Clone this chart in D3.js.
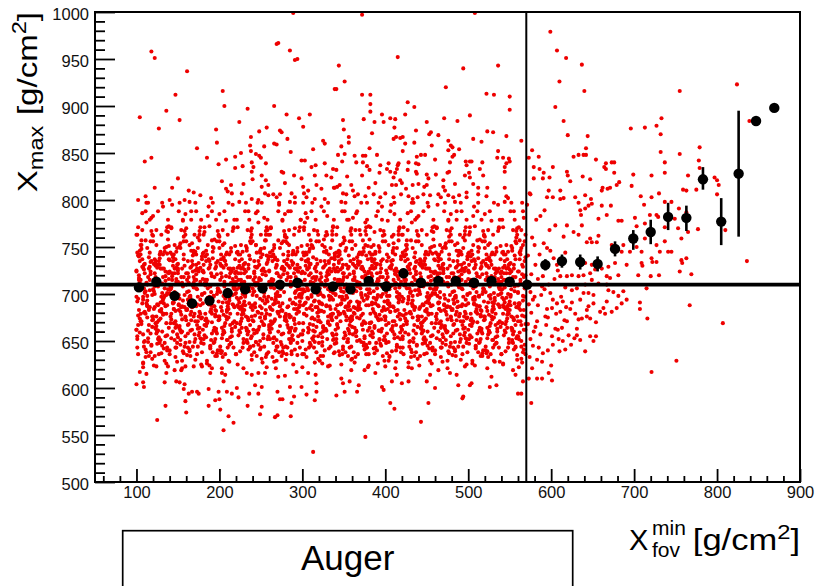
<!DOCTYPE html>
<html>
<head>
<meta charset="utf-8">
<script src="https://cdn.jsdelivr.net/npm/d3@7"></script>
<style>
  body { margin: 0; background: #fff; }
  svg { display: block; font-family: "Liberation Sans", Arial, Helvetica, sans-serif; }
</style>
</head>
<body>
<svg id="chart" width="817" height="586"></svg>
<script>
// profile points (black) : bin centre, mean Xmax, error bar ends
const binX = [103,124,146,167,188,210,231,252,273,294,316,337,358,380,401,422,443,464,485,507,528,550,571,593,613,635,656,677,699,720,741,763,783,805,826,847,869];
const binMean = [707,713,698,690,693,701,705,706,710,712,705,708,705,714,708,722,712,714,714,712,714,713,710,731,735,734,732,748,759,766,782,781,822,777,828,884,898];
const binLow = [703,709,694,686,689,697,701,702,706,708,701,704,701,710,704,717,708,710,710,708,710,709,706,725,728,726,724,740,747,753,768,767,811,752,761,884,898];
const binHigh = [711,717,702,694,697,705,709,710,714,716,709,712,709,718,712,727,716,718,718,716,718,717,714,737,742,742,740,756,768,779,797,794,835,802,895,884,898];

const refLineY = 710;   // horizontal reference
const refLineX = 570;   // vertical cut

const xMajor = [100,200,300,400,500,600,700,800,900];
const yMajor = [500,550,600,650,700,750,800,850,900,950,1000];

// red events
const redCoreA = [
[103,683],[111,641],[117,724],[106,668],[114,797],[101,655],[109,706],[119,631],[105,752],[112,690],[116,715],[100,662],[108,622],[115,739],[102,677],[110,701],[118,646],[107,768],[113,693],[104,659],
[107,729],[115,685],[102,636],[112,712],[118,781],[105,671],[110,650],[100,697],[116,744],[108,627],[103,720],[113,688],[119,665],[106,757],[111,703],[101,643],[117,734],[109,680],[114,653],[104,709],
[112,776],[104,674],[117,638],[109,726],[101,692],[114,661],[106,748],[119,699],[111,633],[103,717],[116,686],[108,657],[100,763],[113,710],[105,679],[118,645],[110,732],[102,695],[115,667],[107,786],
[116,704],[109,649],[102,741],[113,675],
[127,672],[135,719],[122,634],[132,694],[138,758],[125,647],[130,681],[120,705],[136,626],[128,738],[123,663],[133,690],[139,772],[126,652],[131,711],[121,684],[137,640],[129,727],[134,698],[124,666],
[132,793],[124,676],[137,656],[129,745],[121,703],[134,629],[126,688],[139,716],[131,660],[123,735],[136,679],[128,648],[120,762],[133,696],[125,670],[138,723],[130,637],[122,708],[135,687],[127,654],
[136,750],[129,674],[122,700],[133,642],[126,731],[139,664],[120,783],[131,692],[124,658],[135,714],[128,682],[121,624],[137,743],[130,697],[123,669],[134,706],[127,651],[138,766],[132,678],[125,689],
[123,733],[131,645],[137,701],[126,661],
[152,695],[144,660],[157,742],[149,628],[141,708],[154,678],[146,651],[159,785],[151,689],[143,719],[156,639],[148,667],[140,700],[153,754],[145,684],[158,644],[150,727],[142,673],[155,712],[147,633],
[156,693],[149,657],[142,770],[153,681],[146,702],[159,648],[140,736],[151,665],[144,690],[155,621],[148,716],[141,676],[157,761],[150,654],[143,698],[154,686],[147,643],[158,730],[152,711],[145,669],
[143,795],[151,683],[157,637],[146,722],[154,659],[141,705],[149,749],[159,675],[145,691],[152,663],[156,778],[140,640],[148,713],[155,687],[142,653],[150,725],[158,699],[147,671],[153,646],[144,739],
[147,682],[155,629],[142,707],[152,666],
[176,664],[169,707],[162,643],[173,689],[166,779],[179,675],[160,722],[171,630],[164,697],[175,656],[168,741],[161,684],[177,713],[170,649],[163,668],[174,760],[167,692],[178,625],[172,731],[165,678],
[163,703],[171,652],[177,688],[166,746],[174,671],[161,635],[169,718],[179,699],[165,661],[172,788],[176,681],[160,710],[168,644],[175,726],[162,694],[170,657],[178,674],[167,754],[173,705],[164,639],
[167,686],[175,733],[162,667],[172,715],[178,648],[165,696],[170,679],[160,770],[176,659],[168,724],[163,690],[173,636],[179,700],[166,672],[171,745],[161,683],[177,653],[169,712],[174,663],[164,798],
[172,687],[164,641],[177,728],[169,676],
[183,672],[191,719],[197,634],[186,694],[194,758],[181,647],[189,681],[199,705],[185,626],[192,738],[196,663],[180,690],[188,772],[195,652],[182,711],[190,684],[198,640],[187,727],[193,698],[184,666],
[187,793],[195,676],[182,656],[192,745],[198,703],[185,629],[190,688],[180,716],[196,660],[188,735],[183,679],[193,648],[199,762],[186,696],[191,670],[181,723],[197,637],[189,708],[194,687],[184,654],
[192,750],[184,674],[197,700],[189,642],[181,731],[194,664],[186,783],[199,692],[191,658],[183,714],[196,682],[188,624],[180,743],[193,697],[185,669],[198,706],[190,651],[182,766],[195,678],[187,689],
[196,733],[189,645],[182,701],[193,661],
[207,695],[215,660],[202,742],[212,628],[218,708],[205,678],[210,651],[200,785],[216,689],[208,719],[203,639],[213,667],[219,700],[206,754],[211,684],[201,644],[217,727],[209,673],[214,712],[204,633],
[212,693],[204,657],[217,770],[209,681],[201,702],[214,648],[206,736],[219,665],[211,690],[203,621],[216,716],[208,676],[200,761],[213,654],[205,698],[218,686],[210,643],[202,730],[215,711],[207,669],
[216,795],[209,683],[202,637],[213,722],[206,659],[219,705],[200,749],[211,675],[204,691],[215,663],[208,778],[201,640],[217,713],[210,687],[203,653],[214,725],[207,699],[218,671],[212,646],[205,739],
[203,682],[211,629],[217,707],[206,666],
[232,664],[224,707],[237,643],[229,689],[221,779],[234,675],[226,722],[239,630],[231,697],[223,656],[236,741],[228,684],[220,713],[233,649],[225,668],[238,760],[230,692],[222,625],[235,731],[227,678],
[236,703],[229,652],[222,688],[233,746],[226,671],[239,635],[220,718],[231,699],[224,661],[235,788],[228,681],[221,710],[237,644],[230,726],[223,694],[234,657],[227,674],[238,754],[232,705],[225,639],
[223,686],[231,733],[237,667],[226,715],[234,648],[221,696],[229,679],[239,770],[225,659],[232,724],[236,690],[220,636],[228,700],[235,672],[222,745],[230,683],[238,653],[227,712],[233,663],[224,798],
[227,687],[235,641],[222,728],[232,676],
[256,683],[249,641],[242,724],[253,668],[246,797],[259,655],[240,706],[251,631],[244,752],[255,690],[248,715],[241,662],[257,622],[250,739],[243,677],[254,701],[247,646],[258,768],[252,693],[245,659],
[243,729],[251,685],[257,636],[246,712],[254,781],[241,671],[249,650],[259,697],[245,744],[252,627],[256,720],[240,688],[248,665],[255,757],[242,703],[250,643],[258,734],[247,680],[253,653],[244,709],
[247,776],[255,674],[242,638],[252,726],[258,692],[245,661],[250,748],[240,699],[256,633],[248,717],[243,686],[253,657],[259,763],[246,710],[251,679],[241,645],[257,732],[249,695],[254,667],[244,786],
[252,704],[244,649],[257,741],[249,675],
[263,695],[271,660],[277,742],[266,628],[274,708],[261,678],[269,651],[279,785],[265,689],[272,719],[276,639],[260,667],[268,700],[275,754],[262,684],[270,644],[278,727],[267,673],[273,712],[264,633],
[267,693],[275,657],[262,770],[272,681],[278,702],[265,648],[270,736],[260,665],[276,690],[268,621],[263,716],[273,676],[279,761],[266,654],[271,698],[261,686],[277,643],[269,730],[274,711],[264,669],
[272,795],[264,683],[277,637],[269,722],[261,659],[274,705],[266,749],[279,675],[271,691],[263,663],[276,778],[268,640],[260,713],[273,687],[265,653],[278,725],[270,699],[262,671],[275,646],[267,739],
[276,682],[269,629],[262,707],[273,666],
[287,664],[295,707],[282,643],[292,689],[298,779],[285,675],[290,722],[280,630],[296,697],[288,656],[283,741],[293,684],[299,713],[286,649],[291,668],[281,760],[297,692],[289,625],[294,731],[284,678],
[292,703],[284,652],[297,688],[289,746],[281,671],[294,635],[286,718],[299,699],[291,661],[283,788],[296,681],[288,710],[280,644],[293,726],[285,694],[298,657],[290,674],[282,754],[295,705],[287,639],
[296,686],[289,733],[282,667],[293,715],[286,648],[299,696],[280,679],[291,770],[284,659],[295,724],[288,690],[281,636],[297,700],[290,672],[283,745],[294,683],[287,653],[298,712],[292,663],[285,798],
[283,687],[291,641],[297,728],[286,676]
];

const redCoreB = [
[312,683],[304,641],[317,724],[309,668],[301,797],[314,655],[306,706],[319,631],[311,752],[303,690],[316,715],[308,662],[300,622],[313,739],[305,677],[318,701],[310,646],[302,768],[315,693],[307,659],
[316,729],[309,685],[302,636],[313,712],[306,781],[319,671],[300,650],[311,697],[304,744],[315,627],[308,720],[301,688],[317,665],[310,757],[303,703],[314,643],[307,734],[318,680],[312,653],[305,709],
[303,776],[311,674],[317,638],[306,726],[314,692],[301,661],[309,748],[319,699],[305,633],[312,717],[316,686],[300,657],[308,763],[315,710],[302,679],[310,645],[318,732],[307,695],[313,667],[304,786],
[307,704],[315,649],[302,741],[312,675],
[336,672],[329,719],[322,634],[333,694],[326,758],[339,647],[320,681],[331,705],[324,626],[335,738],[328,663],[321,690],[337,772],[330,652],[323,711],[334,684],[327,640],[338,727],[332,698],[325,666],
[323,793],[331,676],[337,656],[326,745],[334,703],[321,629],[329,688],[339,716],[325,660],[332,735],[336,679],[320,648],[328,762],[335,696],[322,670],[330,723],[338,637],[327,708],[333,687],[324,654],
[327,750],[335,674],[322,700],[332,642],[338,731],[325,664],[330,783],[320,692],[336,658],[328,714],[323,682],[333,624],[339,743],[326,697],[331,669],[321,706],[337,651],[329,766],[334,678],[324,689],
[332,733],[324,645],[337,701],[329,661],
[343,664],[351,707],[357,643],[346,689],[354,779],[341,675],[349,722],[359,630],[345,697],[352,656],[356,741],[340,684],[348,713],[355,649],[342,668],[350,760],[358,692],[347,625],[353,731],[344,678],
[347,703],[355,652],[342,688],[352,746],[358,671],[345,635],[350,718],[340,699],[356,661],[348,788],[343,681],[353,710],[359,644],[346,726],[351,694],[341,657],[357,674],[349,754],[354,705],[344,639],
[352,686],[344,733],[357,667],[349,715],[341,648],[354,696],[346,679],[359,770],[351,659],[343,724],[356,690],[348,636],[340,700],[353,672],[345,745],[358,683],[350,653],[342,712],[355,663],[347,798],
[356,687],[349,641],[342,728],[353,676],
[367,683],[375,641],[362,724],[372,668],[378,797],[365,655],[370,706],[360,631],[376,752],[368,690],[363,715],[373,662],[379,622],[366,739],[371,677],[361,701],[377,646],[369,768],[374,693],[364,659],
[372,729],[364,685],[377,636],[369,712],[361,781],[374,671],[366,650],[379,697],[371,744],[363,627],[376,720],[368,688],[360,665],[373,757],[365,703],[378,643],[370,734],[362,680],[375,653],[367,709],
[376,776],[369,674],[362,638],[373,726],[366,692],[379,661],[360,748],[371,699],[364,633],[375,717],[368,686],[361,657],[377,763],[370,710],[363,679],[374,645],[367,732],[378,695],[372,667],[365,786],
[363,704],[371,649],[377,741],[366,675],
[392,672],[384,719],[397,634],[389,694],[381,758],[394,647],[386,681],[399,705],[391,626],[383,738],[396,663],[388,690],[380,772],[393,652],[385,711],[398,684],[390,640],[382,727],[395,698],[387,666],
[396,793],[389,676],[382,656],[393,745],[386,703],[399,629],[380,688],[391,716],[384,660],[395,735],[388,679],[381,648],[397,762],[390,696],[383,670],[394,723],[387,637],[398,708],[392,687],[385,654],
[383,750],[391,674],[397,700],[386,642],[394,731],[381,664],[389,783],[399,692],[385,658],[392,714],[396,682],[380,624],[388,743],[395,697],[382,669],[390,706],[398,651],[387,766],[393,678],[384,689],
[387,733],[395,645],[382,701],[392,661],
[416,695],[409,660],[402,742],[413,628],[406,708],[419,678],[400,651],[411,785],[404,689],[415,719],[408,639],[401,667],[417,700],[410,754],[403,684],[414,644],[407,727],[418,673],[412,712],[405,633],
[403,693],[411,657],[417,770],[406,681],[414,702],[401,648],[409,736],[419,665],[405,690],[412,621],[416,716],[400,676],[408,761],[415,654],[402,698],[410,686],[418,643],[407,730],[413,711],[404,669],
[407,795],[415,683],[402,637],[412,722],[418,659],[405,705],[410,749],[400,675],[416,691],[408,663],[403,778],[413,640],[419,713],[406,687],[411,653],[401,725],[417,699],[409,671],[414,646],[404,739],
[412,682],[404,629],[417,707],[409,666],
[423,683],[431,641],[437,724],[426,668],[434,797],[421,655],[429,706],[439,631],[425,752],[432,690],[436,715],[420,662],[428,622],[435,739],[422,677],[430,701],[438,646],[427,768],[433,693],[424,659],
[427,729],[435,685],[422,636],[432,712],[438,781],[425,671],[430,650],[420,697],[436,744],[428,627],[423,720],[433,688],[439,665],[426,757],[431,703],[421,643],[437,734],[429,680],[434,653],[424,709],
[432,776],[424,674],[437,638],[429,726],[421,692],[434,661],[426,748],[439,699],[431,633],[423,717],[436,686],[428,657],[420,763],[433,710],[425,679],[438,645],[430,732],[422,695],[435,667],[427,786],
[436,704],[429,649],[422,741],[433,675],
[447,672],[455,719],[442,634],[452,694],[458,758],[445,647],[450,681],[440,705],[456,626],[448,738],[443,663],[453,690],[459,772],[446,652],[451,711],[441,684],[457,640],[449,727],[454,698],[444,666],
[452,793],[444,676],[457,656],[449,745],[441,703],[454,629],[446,688],[459,716],[451,660],[443,735],[456,679],[448,648],[440,762],[453,696],[445,670],[458,723],[450,637],[442,708],[455,687],[447,654],
[456,750],[449,674],[442,700],[453,642],[446,731],[459,664],[440,783],[451,692],[444,658],[455,714],[448,682],[441,624],[457,743],[450,697],[443,669],[454,706],[447,651],[458,766],[452,678],[445,689],
[443,733],[451,645],[457,701],[446,661],
[472,695],[464,660],[477,742],[469,628],[461,708],[474,678],[466,651],[479,785],[471,689],[463,719],[476,639],[468,667],[460,700],[473,754],[465,684],[478,644],[470,727],[462,673],[475,712],[467,633],
[476,693],[469,657],[462,770],[473,681],[466,702],[479,648],[460,736],[471,665],[464,690],[475,621],[468,716],[461,676],[477,761],[470,654],[463,698],[474,686],[467,643],[478,730],[472,711],[465,669],
[463,795],[471,683],[477,637],[466,722],[474,659],[461,705],[469,749],[479,675],[465,691],[472,663],[476,778],[460,640],[468,713],[475,687],[462,653],[470,725],[478,699],[467,671],[473,646],[464,739],
[467,682],[475,629],[462,707],[472,666],
[496,664],[489,707],[482,643],[493,689],[486,779],[499,675],[480,722],[491,630],[484,697],[495,656],[488,741],[481,684],[497,713],[490,649],[483,668],[494,760],[487,692],[498,625],[492,731],[485,678],
[483,703],[491,652],[497,688],[486,746],[494,671],[481,635],[489,718],[499,699],[485,661],[492,788],[496,681],[480,710],[488,644],[495,726],[482,694],[490,657],[498,674],[487,754],[493,705],[484,639],
[487,686],[495,733],[482,667],[492,715],[498,648],[485,696],[490,679],[480,770],[496,659],[488,724],[483,690],[493,636],[499,700],[486,672],[491,745],[481,683],[497,653],[489,712],[494,663],[484,798],
[492,687],[484,641],[497,728],[489,676],
[503,672],[511,719],[517,634],[506,694],[514,758],[501,647],[509,681],[519,705],[505,626],[512,738],[516,663],[500,690],[508,772],[515,652],[502,711],[510,684],[518,640],[507,727],[513,698],[504,666],
[507,793],[515,676],[502,656],[512,745],[518,703],[505,629],[510,688],[500,716],[516,660],[508,735],[503,679],[513,648],[519,762],[506,696],[511,670],[501,723],[517,637],[509,708],[514,687],[504,654],
[512,750],[504,674],[517,700],[509,642],[501,731],[514,664],[506,783],[519,692],[511,658],[503,714],[516,682],[508,624],[500,743],[513,697],[505,669],[518,706],[510,651],[502,766],[515,678],[507,689],
[516,733],[509,645],[502,701],[513,661],
[527,695],[535,660],[522,742],[532,628],[538,708],[525,678],[530,651],[520,785],[536,689],[528,719],[523,639],[533,667],[539,700],[526,754],[531,684],[521,644],[537,727],[529,673],[534,712],[524,633],
[532,693],[524,657],[537,770],[529,681],[521,702],[534,648],[526,736],[539,665],[531,690],[523,621],[536,716],[528,676],[520,761],[533,654],[525,698],[538,686],[530,643],[522,730],[535,711],[527,669],
[536,795],[529,683],[522,637],[533,722],[526,659],[539,705],[520,749],[531,675],[524,691],[535,663],[528,778],[521,640],[537,713],[530,687],[523,653],[534,725],[527,699],[538,671],[532,646],[525,739],
[523,682],[531,629],[537,707],[526,666],
[552,664],[544,707],[557,643],[549,689],[541,779],[554,675],[546,722],[559,630],[551,697],[543,656],[556,741],[548,684],[540,713],[553,649],[545,668],[558,760],[550,692],[542,625],[555,731],[547,678],
[556,703],[549,652],[542,688],[553,746],[546,671],[559,635],[540,718],[551,699],[544,661],[555,788],[548,681],[541,710],[557,644],[550,726],[543,694],[554,657],[547,674],[558,754],[552,705],[545,639],
[543,686],[551,733],[557,667],[546,715],[554,648],[541,696],[549,679],[559,770],[545,659],[552,724],[556,690],[540,636],[548,700],[555,672],[542,745],[550,683],[558,653],[547,712],[553,663],[544,798],
[547,687],[555,641],[542,728],[552,676],
[563,683],[567,641],[561,724],[569,668],[565,797],[560,655],[568,706],[564,631],[566,752],[562,690],[563,715],[567,662],[561,622],[569,739],[565,677],[560,701],[568,646],[564,768],[566,693],[562,659],
[566,729],[561,685],[569,636],[563,712],[567,781],[560,671],[564,650],[568,697],[562,744],[565,627],[569,720],[561,688]
];

// extra events in the densest part of the cloud (630-770)
const redDense = [
[101,652],[113,698],[106,671],[118,735],[109,644],[103,709],[115,683],[111,757],[100,662],[117,721],[107,690],[112,638],[104,746],[119,676],[110,702],[102,667],[116,729],[108,694],[114,649],[105,715],[110,681],[101,763],[117,658],[106,706],[113,687],[103,740],[119,672],[108,697],[115,634],[100,725],[111,679],[104,712],
[138,705],[125,661],[131,727],[122,686],[134,648],[128,742],[120,673],[136,699],[127,636],[132,718],[123,664],[139,751],[129,691],[135,655],[121,732],[133,679],[126,708],[137,643],[124,768],[130,684],[126,713],[136,669],[122,737],[132,696],[129,651],[139,722],[120,676],[134,745],[125,660],[131,701],[137,688],[123,730],
[141,705],[153,661],[146,727],[158,686],[149,648],[143,742],[155,673],[151,699],[140,636],[157,718],[147,664],[152,751],[144,691],[159,655],[150,732],[142,679],[156,708],[148,643],[154,768],[145,684],[150,713],[141,669],[157,737],[146,696],[153,651],[143,722],[159,676],[148,745],[155,660],[140,701],[151,688],[144,730],
[178,652],[165,698],[171,671],[162,735],[174,644],[168,709],[160,683],[176,757],[167,662],[172,721],[163,690],[179,638],[169,746],[175,676],[161,702],[173,667],[166,729],[177,694],[164,649],[170,715],[166,681],[176,763],[162,658],[172,706],[169,687],[179,740],[160,672],[174,697],[165,634],[171,725],[177,679],[163,712],
[181,652],[193,698],[186,671],[198,735],[189,644],[183,709],[195,683],[191,757],[180,662],[197,721],[187,690],[192,638],[184,746],[199,676],[190,702],[182,667],[196,729],[188,694],[194,649],[185,715],[190,681],[181,763],[197,658],[186,706],[193,687],[183,740],[199,672],[188,697],[195,634],[180,725],[191,679],[184,712],
[218,705],[205,661],[211,727],[202,686],[214,648],[208,742],[200,673],[216,699],[207,636],[212,718],[203,664],[219,751],[209,691],[215,655],[201,732],[213,679],[206,708],[217,643],[204,768],[210,684],[206,713],[216,669],[202,737],[212,696],[209,651],[219,722],[200,676],[214,745],[205,660],[211,701],[217,688],[203,730],
[221,705],[233,661],[226,727],[238,686],[229,648],[223,742],[235,673],[231,699],[220,636],[237,718],[227,664],[232,751],[224,691],[239,655],[230,732],[222,679],[236,708],[228,643],[234,768],[225,684],[230,713],[221,669],[237,737],[226,696],[233,651],[223,722],[239,676],[228,745],[235,660],[220,701],[231,688],[224,730],
[258,652],[245,698],[251,671],[242,735],[254,644],[248,709],[240,683],[256,757],[247,662],[252,721],[243,690],[259,638],[249,746],[255,676],[241,702],[253,667],[246,729],[257,694],[244,649],[250,715],[246,681],[256,763],[242,658],[252,706],[249,687],[259,740],[240,672],[254,697],[245,634],[251,725],[257,679],[243,712],
[261,652],[273,698],[266,671],[278,735],[269,644],[263,709],[275,683],[271,757],[260,662],[277,721],[267,690],[272,638],[264,746],[279,676],[270,702],[262,667],[276,729],[268,694],[274,649],[265,715],[270,681],[261,763],[277,658],[266,706],[273,687],[263,740],[279,672],[268,697],[275,634],[260,725],[271,679],[264,712],
[298,705],[285,661],[291,727],[282,686],[294,648],[288,742],[280,673],[296,699],[287,636],[292,718],[283,664],[299,751],[289,691],[295,655],[281,732],[293,679],[286,708],[297,643],[284,768],[290,684],[286,713],[296,669],[282,737],[292,696],[289,651],[299,722],[280,676],[294,745],[285,660],[291,701],[297,688],[283,730],
[301,705],[313,661],[306,727],[318,686],[309,648],[303,742],[315,673],[311,699],[300,636],[317,718],[307,664],[312,751],[304,691],[319,655],[310,732],[302,679],[316,708],[308,643],[314,768],[305,684],[310,713],[301,669],[317,737],[306,696],[313,651],[303,722],[319,676],[308,745],[315,660],[300,701],[311,688],[304,730],
[338,652],[325,698],[331,671],[322,735],[334,644],[328,709],[320,683],[336,757],[327,662],[332,721],[323,690],[339,638],[329,746],[335,676],[321,702],[333,667],[326,729],[337,694],[324,649],[330,715],[326,681],[336,763],[322,658],[332,706],[329,687],[339,740],[320,672],[334,697],[325,634],[331,725],[337,679],[323,712],
[341,652],[353,698],[346,671],[358,735],[349,644],[343,709],[355,683],[351,757],[340,662],[357,721],[347,690],[352,638],[344,746],[359,676],[350,702],[342,667],[356,729],[348,694],[354,649],[345,715],[350,681],[341,763],[357,658],[346,706],[353,687],[343,740],[359,672],[348,697],[355,634],[340,725],[351,679],[344,712],
[378,705],[365,661],[371,727],[362,686],[374,648],[368,742],[360,673],[376,699],[367,636],[372,718],[363,664],[379,751],[369,691],[375,655],[361,732],[373,679],[366,708],[377,643],[364,768],[370,684],[366,713],[376,669],[362,737],[372,696],[369,651],[379,722],[360,676],[374,745],[365,660],[371,701],[377,688],[363,730],
[381,705],[393,661],[386,727],[398,686],[389,648],[383,742],[395,673],[391,699],[380,636],[397,718],[387,664],[392,751],[384,691],[399,655],[390,732],[382,679],[396,708],[388,643],[394,768],[385,684],[390,713],[381,669],[397,737],[386,696],[393,651],[383,722],[399,676],[388,745],[395,660],[380,701],[391,688],[384,730],
[418,652],[405,698],[411,671],[402,735],[414,644],[408,709],[400,683],[416,757],[407,662],[412,721],[403,690],[419,638],[409,746],[415,676],[401,702],[413,667],[406,729],[417,694],[404,649],[410,715],[406,681],[416,763],[402,658],[412,706],[409,687],[419,740],[400,672],[414,697],[405,634],[411,725],[417,679],[403,712],
[421,652],[433,698],[426,671],[438,735],[429,644],[423,709],[435,683],[431,757],[420,662],[437,721],[427,690],[432,638],[424,746],[439,676],[430,702],[422,667],[436,729],[428,694],[434,649],[425,715],[430,681],[421,763],[437,658],[426,706],[433,687],[423,740],[439,672],[428,697],[435,634],[420,725],[431,679],[424,712],
[458,705],[445,661],[451,727],[442,686],[454,648],[448,742],[440,673],[456,699],[447,636],[452,718],[443,664],[459,751],[449,691],[455,655],[441,732],[453,679],[446,708],[457,643],[444,768],[450,684],[446,713],[456,669],[442,737],[452,696],[449,651],[459,722],[440,676],[454,745],[445,660],[451,701],[457,688],[443,730],
[461,705],[473,661],[466,727],[478,686],[469,648],[463,742],[475,673],[471,699],[460,636],[477,718],[467,664],[472,751],[464,691],[479,655],[470,732],[462,679],[476,708],[468,643],[474,768],[465,684],[470,713],[461,669],[477,737],[466,696],[473,651],[463,722],[479,676],[468,745],[475,660],[460,701],[471,688],[464,730],
[498,652],[485,698],[491,671],[482,735],[494,644],[488,709],[480,683],[496,757],[487,662],[492,721],[483,690],[499,638],[489,746],[495,676],[481,702],[493,667],[486,729],[497,694],[484,649],[490,715],[486,681],[496,763],[482,658],[492,706],[489,687],[499,740],[480,672],[494,697],[485,634],[491,725],[497,679],[483,712],
[501,652],[513,698],[506,671],[518,735],[509,644],[503,709],[515,683],[511,757],[500,662],[517,721],[507,690],[512,638],[504,746],[519,676],[510,702],[502,667],[516,729],[508,694],[514,649],[505,715],[510,681],[501,763],[517,658],[506,706],[513,687],[503,740],[519,672],[508,697],[515,634],[500,725],[511,679],[504,712],
[538,705],[525,661],[531,727],[522,686],[534,648],[528,742],[520,673],[536,699],[527,636],[532,718],[523,664],[539,751],[529,691],[535,655],[521,732],[533,679],[526,708],[537,643],[524,768],[530,684],[526,713],[536,669],[522,737],[532,696],[529,651],[539,722],[520,676],[534,745],[525,660],[531,701],[537,688],[523,730],
[541,705],[553,661],[546,727],[558,686],[549,648],[543,742],[555,673],[551,699],[540,636],[557,718],[547,664],[552,751],[544,691],[559,655],[550,732],[542,679],[556,708],[548,643],[554,768],[545,684],[550,713],[541,669],[557,737],[546,696],[553,651],[543,722],[559,676],[548,745],[555,660],[540,701],[551,688],[544,730],
[561,652],[566,698],[563,671],[568,735],[564,644],[560,709],[567,683],[562,757],[569,662],[565,721],[561,690],[566,638],[563,746],[568,676],[560,702],[564,667]
];

// extra events just above the reference line (715-800)
const redAbove = [
[105,742],[114,718],[102,771],[109,731],[117,756],[100,724],[111,788],[107,737],[119,763],[103,715],[113,749],[108,728],[116,779],[101,744],[110,722],[118,767],[104,735],[112,797],[106,752],[115,727],
[132,742],[123,718],[137,771],[128,731],[120,756],[135,724],[126,788],[139,737],[130,763],[121,715],[134,749],[125,728],[138,779],[129,744],[122,722],[136,767],[127,735],[131,797],[124,752],[133,727],
[145,742],[154,718],[142,771],[149,731],[157,756],[140,724],[151,788],[147,737],[159,763],[143,715],[153,749],[148,728],[156,779],[141,744],[150,722],[158,767],[144,735],[152,797],[146,752],[155,727],
[172,742],[163,718],[177,771],[168,731],[160,756],[175,724],[166,788],[179,737],[170,763],[161,715],[174,749],[165,728],[178,779],[169,744],[162,722],[176,767],[167,735],[171,797],[164,752],[173,727],
[185,742],[194,718],[182,771],[189,731],[197,756],[180,724],[191,788],[187,737],[199,763],[183,715],[193,749],[188,728],[196,779],[181,744],[190,722],[198,767],[184,735],[192,797],[186,752],[195,727],
[212,742],[203,718],[217,771],[208,731],[200,756],[215,724],[206,788],[219,737],[210,763],[201,715],[214,749],[205,728],[218,779],[209,744],[202,722],[216,767],[207,735],[211,797],[204,752],[213,727],
[225,742],[234,718],[222,771],[229,731],[237,756],[220,724],[231,788],[227,737],[239,763],[223,715],[233,749],[228,728],[236,779],[221,744],[230,722],[238,767],[224,735],[232,797],[226,752],[235,727],
[252,742],[243,718],[257,771],[248,731],[240,756],[255,724],[246,788],[259,737],[250,763],[241,715],[254,749],[245,728],[258,779],[249,744],[242,722],[256,767],[247,735],[251,797],[244,752],[253,727],
[265,742],[274,718],[262,771],[269,731],[277,756],[260,724],[271,788],[267,737],[279,763],[263,715],[273,749],[268,728],[276,779],[261,744],[270,722],[278,767],[264,735],[272,797],[266,752],[275,727],
[292,742],[283,718],[297,771],[288,731],[280,756],[295,724],[286,788],[299,737],[290,763],[281,715],[294,749],[285,728],[298,779],[289,744],[282,722],[296,767],[287,735],[291,797],[284,752],[293,727],
[305,742],[314,718],[302,771],[309,731],[317,756],[300,724],[311,788],[307,737],[319,763],[303,715],[313,749],[308,728],[316,779],[301,744],[310,722],[318,767],[304,735],[312,797],[306,752],[315,727],
[332,742],[323,718],[337,771],[328,731],[320,756],[335,724],[326,788],[339,737],[330,763],[321,715],[334,749],[325,728],[338,779],[329,744],[322,722],[336,767],[327,735],[331,797],[324,752],[333,727],
[345,742],[354,718],[342,771],[349,731],[357,756],[340,724],[351,788],[347,737],[359,763],[343,715],[353,749],[348,728],[356,779],[341,744],[350,722],[358,767],[344,735],[352,797],[346,752],[355,727],
[372,742],[363,718],[377,771],[368,731],[360,756],[375,724],[366,788],[379,737],[370,763],[361,715],[374,749],[365,728],[378,779],[369,744],[362,722],[376,767],[367,735],[371,797],[364,752],[373,727],
[385,742],[394,718],[382,771],[389,731],[397,756],[380,724],[391,788],[387,737],[399,763],[383,715],[393,749],[388,728],[396,779],[381,744],[390,722],[398,767],[384,735],[392,797],[386,752],[395,727],
[412,742],[403,718],[417,771],[408,731],[400,756],[415,724],[406,788],[419,737],[410,763],[401,715],[414,749],[405,728],[418,779],[409,744],[402,722],[416,767],[407,735],[411,797],[404,752],[413,727],
[425,742],[434,718],[422,771],[429,731],[437,756],[420,724],[431,788],[427,737],[439,763],[423,715],[433,749],[428,728],[436,779],[421,744],[430,722],[438,767],[424,735],[432,797],[426,752],[435,727],
[452,742],[443,718],[457,771],[448,731],[440,756],[455,724],[446,788],[459,737],[450,763],[441,715],[454,749],[445,728],[458,779],[449,744],[442,722],[456,767],[447,735],[451,797],[444,752],[453,727],
[465,742],[474,718],[462,771],[469,731],[477,756],[460,724],[471,788],[467,737],[479,763],[463,715],[473,749],[468,728],[476,779],[461,744],[470,722],[478,767],[464,735],[472,797],[466,752],[475,727],
[492,742],[483,718],[497,771],[488,731],[480,756],[495,724],[486,788],[499,737],[490,763],[481,715],[494,749],[485,728],[498,779],[489,744],[482,722],[496,767],[487,735],[491,797],[484,752],[493,727],
[505,742],[514,718],[502,771],[509,731],[517,756],[500,724],[511,788],[507,737],[519,763],[503,715],[513,749],[508,728],[516,779],[501,744],[510,722],[518,767],[504,735],[512,797],[506,752],[515,727],
[532,742],[523,718],[537,771],[528,731],[520,756],[535,724],[526,788],[539,737],[530,763],[521,715],[534,749],[525,728],[538,779],[529,744],[522,722],[536,767],[527,735],[531,797],[524,752],[533,727],
[545,742],[554,718],[542,771],[549,731],[557,756],[540,724],[551,788],[547,737],[559,763],[543,715],[553,749],[548,728],[556,779],[541,744],[550,722],[558,767],[544,735],[552,797],[546,752],[555,727],
[563,742],[567,718],[561,771],[565,731],[568,756],[560,724],[566,788],[562,737],[569,763],[564,749]
];

const redUpper = [
[289,999],[269,966],[271,967],[118,958],[122,951],[285,959],[291,949],[294,950],[161,937],[147,912],[204,916],[339,918],[136,895],[104,888],[152,885],[127,876],[206,900],[234,897],[266,900],[224,883],
[281,891],[296,887],[309,891],[301,878],[196,875],[197,861],[173,855],[118,845],[110,841],[185,845],[199,838],[208,843],[219,846],[226,850],[238,867],[237,858],[238,852],[248,873],[257,877],[254,857],
[273,874],[275,872],[282,865],[266,860],[269,859],[244,849],[248,847],[250,845],[286,851],[299,842],[303,842],[313,854],[325,863],[327,860],[239,840],[219,834],[228,836],[241,835],[256,839],[275,830],
[290,826],[311,835],[316,837],[327,839],[150,823],[122,813],[143,813],[203,820],[214,816],[208,812],[210,809],[215,807],[229,817],[239,830],[240,822],[251,826],[256,821],[259,816],[251,814],[163,810],
[169,808],[177,805],[111,804],[102,800],[140,800],[158,800],[190,802],[277,829],[279,818],[299,823],[301,814],[307,810],[315,826],[317,816],[323,812],[329,826],[335,824],[339,813],[255,807],[259,805],
[265,806],[269,803],[273,806],[287,807],[291,803],[302,807],[305,803],[315,801],[327,801],[227,807],[239,801],[247,800],
[372,997],[508,999],[415,952],[344,943],[494,940],[536,943],[351,926],[341,918],[473,920],[372,912],[382,912],[522,913],[531,912],[550,910],[382,902],[427,904],[435,899],[382,894],[550,896],[349,885],
[374,886],[396,891],[387,883],[398,883],[406,887],[412,886],[424,891],[450,883],[471,887],[487,884],[502,890],[350,875],[384,871],[411,877],[437,874],[453,870],[455,872],[464,869],[523,873],[530,872],
[546,868],[356,867],[356,861],[410,865],[413,867],[418,866],[421,867],[424,860],[435,861],[456,858],[476,863],[479,858],[481,856],[476,853],[489,854],[506,865],[516,862],[564,863],[347,857],[381,855],
[421,852],[343,848],[351,849],[363,847],[373,847],[376,847],[390,848],[438,846],[443,848],[448,848],[481,846],[483,848],[497,841],[502,841],[504,841],[536,852],[535,845],[542,845],[549,844],[550,841],
[348,841],[365,840],[373,840],[394,837],[404,839],[416,839],[415,837],[414,833],[428,840],[437,839],[440,838],[460,843],[517,840],[546,839],[544,835],[337,833],[341,832],[378,836],[381,832],[402,833],
[406,830],[412,829],[427,832],[437,830],[478,840],[475,829],[498,837],[501,829],[514,833],[518,826],[544,830],[354,825],[372,826],[393,829],[410,824],[418,821],[438,828],[450,827],[452,823],[461,827],
[470,821],[477,830],[496,826],[502,824],[342,814],[338,813],[345,816],[359,816],[361,810],[349,807],[380,813],[388,818],[408,816],[413,816],[420,818],[425,812],[433,816],[440,817],[447,814],[450,816],
[470,814],[472,810],[484,817],[498,808],[506,817],[512,813],[523,813],[544,813],[353,806],[363,804],[367,806],[376,804],[386,806],[394,803],[400,807],[410,803],[419,806],[428,804],[433,801],[439,803],
[446,806],[454,805],[464,806],[467,803],[476,805],[482,803],[489,805],[498,803],[512,806],[522,804],[546,804],[548,802]
];

const redLower = [
[313,532],[376,548],[125,566],[205,555],[267,569],[270,571],[286,570],[217,563],[211,570],[443,564],[135,581],[160,574],[159,586],[187,581],[201,577],[234,581],[249,572],[251,580],[406,584],[411,578],
[452,584],[493,589],[100,604],[109,601],[108,606],[112,615],[104,617],[108,626],[134,606],[136,616],[138,623],[124,623],[148,607],[152,606],[158,604],[157,599],[163,594],[167,596],[173,596],[175,594],
[146,619],[154,619],[159,623],[169,623],[179,623],[191,621],[189,616],[203,616],[207,614],[205,607],[199,596],[187,599],[195,587],[200,588],[209,596],[215,594],[223,590],[221,600],[233,616],[239,614],
[247,616],[255,616],[229,621],[243,603],[236,594],[247,594],[251,601],[270,596],[273,588],[276,588],[271,612],[279,613],[285,601],[290,591],[287,584],[293,617],[299,601],[305,593],[307,616],[316,614],
[317,605],[317,596],[315,587],[331,623],[341,592],[349,605],[347,610],[351,596],[357,607],[359,619],[366,596],[368,603],[375,619],[388,616],[400,623],[396,601],[398,598],[408,607],[414,614],[420,605],
[428,607],[432,621],[450,607],[454,614],[460,600],[464,619],[478,616],[486,614],[488,603],[496,623],[494,591],[502,603],[504,605],[526,601],[528,612],[534,603],[538,628],[542,626],[554,619],[557,614],
[560,594],[564,594],[566,607]
];

const redRight = [
[572,668],[575,702],[578,645],[581,731],[584,688],[587,657],[590,719],[593,676],[596,640],[599,746],[602,694],[605,663],[608,725],[611,681],[614,650],[617,707],
[571,712],[574,633],[577,760],[580,697],[583,671],[586,742],[589,628],[592,705],[595,684],[598,768],[601,655],[604,716],[607,690],[610,639],[613,733],[616,672],
[573,689],[576,721],[579,660],[582,779],[585,643],[588,699],[591,754],[594,667],[597,710],[600,624],[603,738],[606,679],[609,652],[612,697],[615,761],[618,686],
[572,741],[575,652],[578,694],[581,665],[584,716],[587,783],[590,637],[593,728],[596,675],[599,701],[602,646],[605,773],[608,662],[611,719],[614,692],[617,744],
[576,680],[583,630],[589,708],[595,749],[601,685],[607,731],[613,664],[571,795],[580,752],[592,789],
[576,584],[573,610],[577,621],[583,610],[589,610],[597,616],[601,608],
[599,979],[607,959],[618,951],[610,926],[605,899],[615,884],[620,869],[577,853],[585,846],[573,845],[627,846],[579,835],[586,833],[591,829],[602,835],[598,824],[619,830],[620,826],[623,820],[579,823],
[590,823],[574,807],[575,806],[597,810],[611,810],[595,803],[602,803],[611,801],[615,802],
[637,944],[640,916],[755,916],[824,923],[839,884],[644,868],[642,855],[633,848],[639,848],[642,848],[654,843],[664,835],[666,839],[676,840],[676,829],[638,825],[647,822],[696,876],[713,877],[727,879],
[733,887],[732,870],[699,827],[697,815],[721,826],[737,829],[737,840],[732,851],[755,849],[779,856],[778,842],[779,834],[765,826],[797,824],[800,821],[759,811],[763,810],[775,811],[800,806],[629,803],
[641,805],[648,801],[661,810],[662,813],[668,812],[671,813],[679,816],[682,819],[673,840],[666,833],[708,804],[712,795],[721,803],[730,807],[633,797],[635,789],[641,791],[649,796],[661,794],[672,794],
[667,784],[657,780],[681,778],[685,778],[701,781],[703,772],[713,775],[719,784],[727,784],[729,782],[737,798],[745,798],[754,791],[763,787],[737,771],[737,756],[749,780],[753,770],[757,759],[765,766],
[777,769],[810,768],[802,816],[836,735],[619,773],[627,766],[633,763],[636,784],[637,773],[645,794],[647,759],[649,755],[657,762],[643,755],[655,755],[673,752],[687,752],[685,745],[695,745],[703,750],
[713,759],[709,745],[721,738],[727,752],[731,745],[741,745],[745,745],[757,736],[763,738],
[758,733],[755,724],[769,721],[730,720],[720,719],[715,706],[707,691],[707,684],[716,674],[767,688],[807,669],[751,629],[721,617],[691,694],[687,703],[681,698],[685,690],[679,685],[673,681],[665,679],
[659,681],[667,692],[663,685],[677,733],[691,731],[681,720],[671,717],[667,710],[669,704],[675,702],[709,733],[710,730],[722,734],[727,734],[705,720],[641,639],[651,650],[647,655],[654,655],[631,663],
[631,656],[635,651],[628,653],[624,646],[617,641],[621,656],[619,671],[633,673],[637,674],[643,676],[647,674],[654,670],[643,683],[645,687],[651,690],[651,699],[645,701],[639,701],[635,694],[625,691],
[629,679],[623,684],[619,719],[625,720],[633,719],[639,720],[647,722],[653,726],[661,727],[667,719],[657,711],[649,715],[641,710],[631,706],[625,704],[641,733],[649,731],[657,734],[669,729]
];

const svg = d3.select("#chart");
const width = +svg.attr("width"), height = +svg.attr("height");
const frame = { left: 95, right: 800, top: 12, bottom: 482 };

svg.append("rect").attr("width", width).attr("height", height).attr("fill", "#fff");

const x = d3.scaleLinear().domain([50, 900]).range([frame.left, frame.right]);
const y = d3.scaleLinear().domain([500, 1000]).range([frame.bottom, frame.top]);

// scatter
const redPoints = redCoreA.concat(redCoreB, redDense, redAbove, redUpper, redLower, redRight);
svg.append("g")
  .selectAll("circle")
  .data(redPoints)
  .join("circle")
  .attr("cx", d => x(d[0]))
  .attr("cy", d => y(d[1]))
  .attr("r", 2.05)
  .attr("fill", "#ee0000");

// reference lines
svg.append("line")
  .attr("x1", x(50)).attr("x2", x(900))
  .attr("y1", y(refLineY)).attr("y2", y(refLineY))
  .attr("stroke", "#000").attr("stroke-width", 3.6);

svg.append("line")
  .attr("x1", x(refLineX)).attr("x2", x(refLineX))
  .attr("y1", y(500)).attr("y2", y(1000))
  .attr("stroke", "#000").attr("stroke-width", 2);

// profile with error bars
const prof = binX.map((b, i) => ({ x: b, m: binMean[i], lo: binLow[i], hi: binHigh[i] }));
svg.append("g").selectAll("line")
  .data(prof)
  .join("line")
  .attr("x1", d => x(d.x)).attr("x2", d => x(d.x))
  .attr("y1", d => y(d.lo)).attr("y2", d => y(d.hi))
  .attr("stroke", "#000").attr("stroke-width", 2.6);

svg.append("g").selectAll("circle")
  .data(prof)
  .join("circle")
  .attr("cx", d => x(d.x))
  .attr("cy", d => y(d.m))
  .attr("r", 5.2)
  .attr("fill", "#000");

// axes (ticks point inwards)
const xMinor = d3.range(60, 900, 20).filter(v => v % 100 !== 0);
const yMinor = d3.range(510, 1000, 10).filter(v => v % 50 !== 0);

const xAxisG = svg.append("g").attr("transform", `translate(0,${frame.bottom})`);
xAxisG.append("g")
  .call(d3.axisBottom(x).tickValues(xMinor).tickFormat("").tickSizeInner(-6).tickSizeOuter(0));
xAxisG.append("g")
  .call(d3.axisBottom(x).tickValues(xMajor).tickFormat(d3.format("d")).tickSizeInner(-13).tickSizeOuter(0).tickPadding(4.5));

const yAxisG = svg.append("g").attr("transform", `translate(${frame.left},0)`);
yAxisG.append("g")
  .call(d3.axisLeft(y).tickValues(yMinor).tickFormat("").tickSizeInner(-10).tickSizeOuter(0));
yAxisG.append("g")
  .call(d3.axisLeft(y).tickValues(yMajor).tickFormat(d3.format("d")).tickSizeInner(-20).tickSizeOuter(0).tickPadding(6));

svg.selectAll(".domain").remove();
svg.selectAll(".tick line").attr("stroke", "#000").attr("stroke-width", 1.8);
svg.selectAll(".tick text")
  .attr("fill", "#111")
  .style("font-size", "16.5px")
  .style("font-family", "'Liberation Sans', Arial, sans-serif");
yAxisG.selectAll(".tick text").attr("dy", "0.45em");

// frame
svg.append("rect")
  .attr("x", frame.left).attr("y", frame.top)
  .attr("width", frame.right - frame.left).attr("height", frame.bottom - frame.top)
  .attr("fill", "none").attr("stroke", "#000").attr("stroke-width", 2);

// y title
const yTitle = svg.append("text")
  .attr("transform", "translate(37,12) rotate(-90) scale(1.18,1)")
  .attr("text-anchor", "end")
  .style("font-size", "28px");
yTitle.append("tspan").text("X");
yTitle.append("tspan").attr("dy", 6).style("font-size", "20px").text("max");
yTitle.append("tspan").attr("dy", -6).attr("dx", 9).text("[g/cm");
yTitle.append("tspan").attr("dy", -11).style("font-size", "20px").text("2");
yTitle.append("tspan").attr("dy", 11).text("]");

// x title
svg.append("text").attr("x", 629).attr("y", 550).style("font-size", "29px").text("X");
svg.append("text").attr("x", 652).attr("y", 535).style("font-size", "21px").text("min");
svg.append("text").attr("x", 652).attr("y", 557).style("font-size", "21px").text("fov");
const xUnit = svg.append("text")
  .attr("transform", "translate(800,550) scale(1.19,1)")
  .attr("text-anchor", "end")
  .style("font-size", "29px");
xUnit.append("tspan").text("[g/cm");
xUnit.append("tspan").attr("dy", -11).style("font-size", "20px").text("2");
xUnit.append("tspan").attr("dy", 11).text("]");

// label box
svg.append("rect")
  .attr("x", 122.7).attr("y", 530.7)
  .attr("width", 450).attr("height", 70)
  .attr("fill", "#fff").attr("stroke", "#000").attr("stroke-width", 1.7);
svg.append("text")
  .attr("x", 347.7).attr("y", 570)
  .attr("text-anchor", "middle")
  .style("font-size", "35px")
  .text("Auger");
</script>
</body>
</html>
